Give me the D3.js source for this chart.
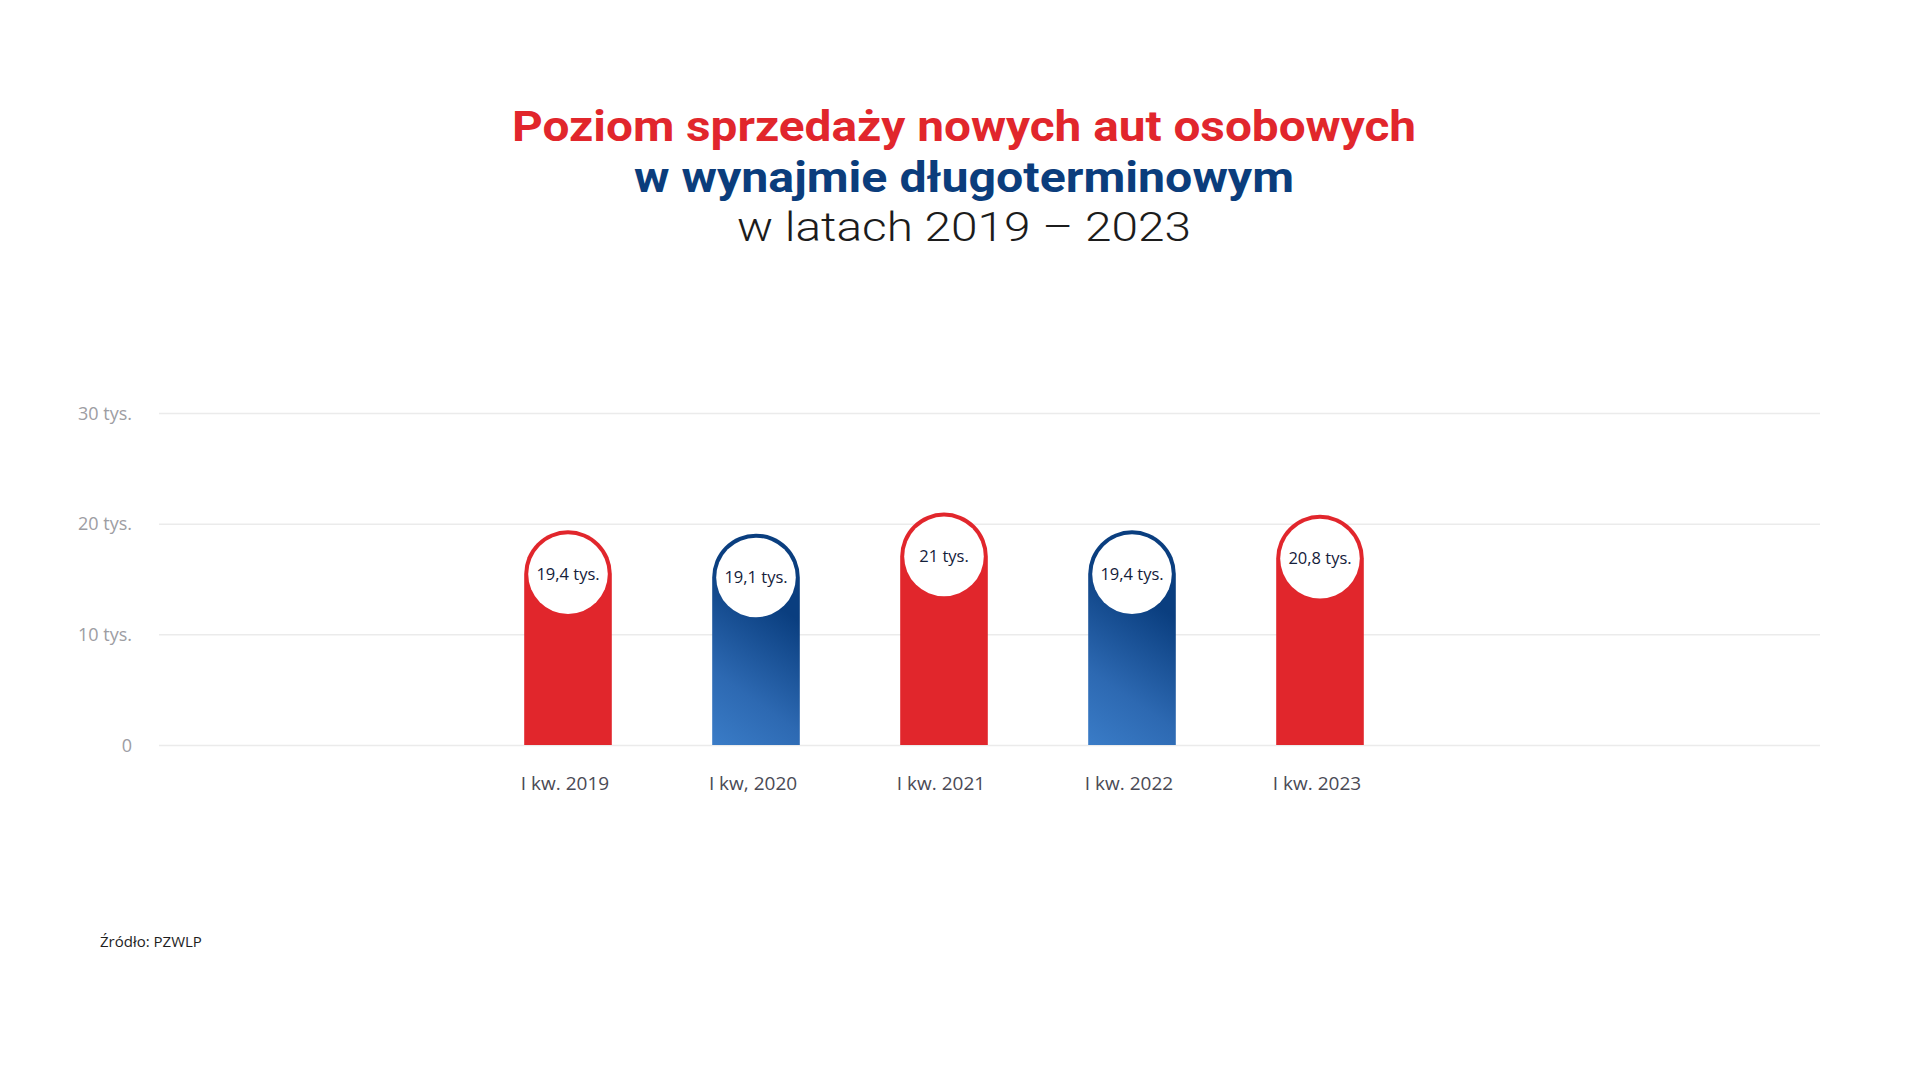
<!DOCTYPE html>
<html>
<head>
<meta charset="utf-8">
<script src="https://cdn.jsdelivr.net/npm/d3@7"></script>
<style>
  body { margin: 0; background: #fff; }
  svg { display: block; }
</style>
</head>
<body>
<svg id="chart" width="1920" height="1080"></svg>
<script>
// data
var categories = ["I kw. 2019", "I kw, 2020", "I kw. 2021", "I kw. 2022", "I kw. 2023"];
var values = [19.4, 19.1, 21, 19.4, 20.8];   // tys. aut
var yTicks = [0, 10, 20, 30];

var titleLines = [
  {text: "Poziom sprzedaży nowych aut osobowych", fill: "#e1262c", weight: 700, len: 904},
  {text: "w wynajmie długoterminowym", fill: "#0b3d7c", weight: 700, len: 660},
  {text: "w latach 2019 – 2023", fill: "#1c1c1c", weight: 300, len: 454}
];

var plPL = d3.formatLocale({decimal: ",", thousands: " ", grouping: [3], currency: ["", " zł"]});
var fmt = plPL.format("~g");

var svg = d3.select("#chart");
var defs = svg.append("defs");

// title
svg.append("g").selectAll("text")
  .data(titleLines)
  .enter().append("text")
  .attr("x", 964)
  .attr("y", function(d, i) { return [141, 192, 241][i]; })
  .attr("text-anchor", "middle")
  .attr("textLength", function(d) { return d.len; })
  .attr("lengthAdjust", "spacingAndGlyphs")
  .style("font-family", "Roboto, 'Noto Sans', sans-serif")
  .style("font-size", function(d) { return d.weight == 300 ? "40px" : "42px"; })
  .style("font-weight", function(d) { return d.weight; })
  .style("fill", function(d) { return d.fill; })
  .text(function(d) { return d.text; });

// scales
var y = d3.scaleLinear().domain([0, 30]).range([745, 413]);
var x = d3.scaleBand().domain(categories).range([474, 1414]).paddingInner(0.534).paddingOuter(0.267);

// y axis + gridlines
var yAxis = svg.append("g")
  .attr("transform", "translate(159,0)")
  .call(d3.axisLeft(y).tickValues(yTicks).tickSize(-(1820 - 159)).tickPadding(27)
    .tickFormat(function(d) { return d === 0 ? "0" : d + " tys."; }));
yAxis.select(".domain").remove();
yAxis.selectAll(".tick line").attr("stroke", "#ebebeb").attr("stroke-width", 1.5);
yAxis.selectAll(".tick text")
  .attr("dy", "0.35em")
  .style("font-family", "'Open Sans', sans-serif")
  .style("font-size", "18px")
  .style("fill", "#9d9da3");

// x axis labels
var xAxis = svg.append("g")
  .attr("transform", "translate(0,745)")
  .call(d3.axisBottom(x).tickSize(0).tickPadding(32));
xAxis.select(".domain").remove();
xAxis.selectAll(".tick text")
  .attr("dx", -3)
  .style("font-family", "'Open Sans', sans-serif")
  .style("font-size", "19px")
  .style("fill", "#4a4a55");

var rows = categories.map(function(c, i) { return {cat: c, v: values[i], i: i}; });

// one diagonal gradient per blue bar: light bottom-left -> dark top-right
var grads = defs.selectAll("linearGradient")
  .data(rows.filter(function(d) { return d.i % 2; }))
  .enter().append("linearGradient")
  .attr("id", function(d) { return "blue" + d.i; })
  .attr("gradientUnits", "userSpaceOnUse")
  .attr("x1", function(d) { return x(d.cat); })
  .attr("y1", y(0))
  .attr("x2", function(d) { return x(d.cat) + x.bandwidth(); })
  .attr("y2", function(d) { return y(d.v) + x.bandwidth(); });
grads.append("stop").attr("offset", "0%").attr("stop-color", "#3a7cc7");
grads.append("stop").attr("offset", "40%").attr("stop-color", "#2d69b2");
grads.append("stop").attr("offset", "100%").attr("stop-color", "#0a3e7f");

// bars with rounded tops
function barPath(d) {
  var x0 = x(d.cat), w = x.bandwidth(), r = w / 2;
  var top = y(d.v), base = y(0);
  return "M" + x0 + "," + base +
    "L" + x0 + "," + (top + r) +
    "A" + r + "," + r + " 0 0 1 " + (x0 + w) + "," + (top + r) +
    "L" + (x0 + w) + "," + base + "Z";
}

var bars = svg.append("g").selectAll("g")
  .data(rows)
  .enter().append("g");

bars.append("path")
  .attr("d", barPath)
  .attr("fill", function(d) { return d.i % 2 ? "url(#blue" + d.i + ")" : "#e1262c"; });

bars.append("circle")
  .attr("cx", function(d) { return x(d.cat) + x.bandwidth() / 2; })
  .attr("cy", function(d) { return y(d.v) + x.bandwidth() / 2; })
  .attr("r", x.bandwidth() / 2 - 4)
  .attr("fill", "#fff");

bars.append("text")
  .attr("x", function(d) { return x(d.cat) + x.bandwidth() / 2; })
  .attr("y", function(d) { return y(d.v) + x.bandwidth() / 2; })
  .attr("dy", "0.35em")
  .attr("text-anchor", "middle")
  .style("font-family", "'Open Sans', sans-serif")
  .style("font-size", "16.5px")
  .style("fill", "#14203a")
  .text(function(d) { return fmt(d.v) + " tys."; });

// source
svg.append("text")
  .attr("x", 100)
  .attr("y", 947)
  .style("font-family", "'Open Sans', sans-serif")
  .style("font-size", "15px")
  .style("fill", "#1e1e1e")
  .text("Źródło: PZWLP");
</script>
</body>
</html>
